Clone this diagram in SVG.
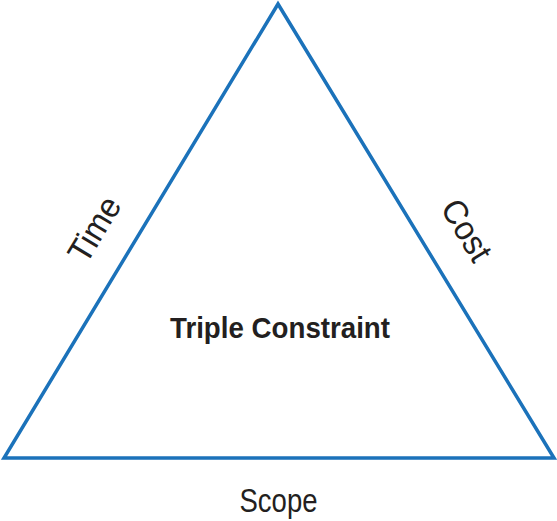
<svg xmlns="http://www.w3.org/2000/svg" width="557" height="521" viewBox="0 0 557 521">
  <style>
    .edge { fill: none; stroke: #1b72ba; stroke-width: 3.5; stroke-linejoin: miter; }
    .lbl { font-family: "Liberation Sans", Arial, sans-serif; fill: #231f20; text-anchor: middle; }
  </style>
  <rect width="557" height="521" fill="#ffffff"/>
  <g id="connectors">
    <polygon class="edge" points="278,4 4,458 554,458"/>
  </g>
  <g id="time">
    <text class="lbl" font-size="34" transform="translate(94,229) rotate(-58.9)" x="0" y="12" textLength="70" lengthAdjust="spacingAndGlyphs">Time</text>
  </g>
  <g id="cost">
    <text class="lbl" font-size="34" transform="translate(467,230) rotate(58.9)" x="0" y="12" textLength="66" lengthAdjust="spacingAndGlyphs">Cost</text>
  </g>
  <g id="triple-constraint">
    <text class="lbl" font-size="30" font-weight="bold" x="280" y="338" textLength="220" lengthAdjust="spacingAndGlyphs">Triple Constraint</text>
  </g>
  <g id="scope">
    <text class="lbl" font-size="33" x="278.5" y="512" textLength="78" lengthAdjust="spacingAndGlyphs">Scope</text>
  </g>
</svg>
